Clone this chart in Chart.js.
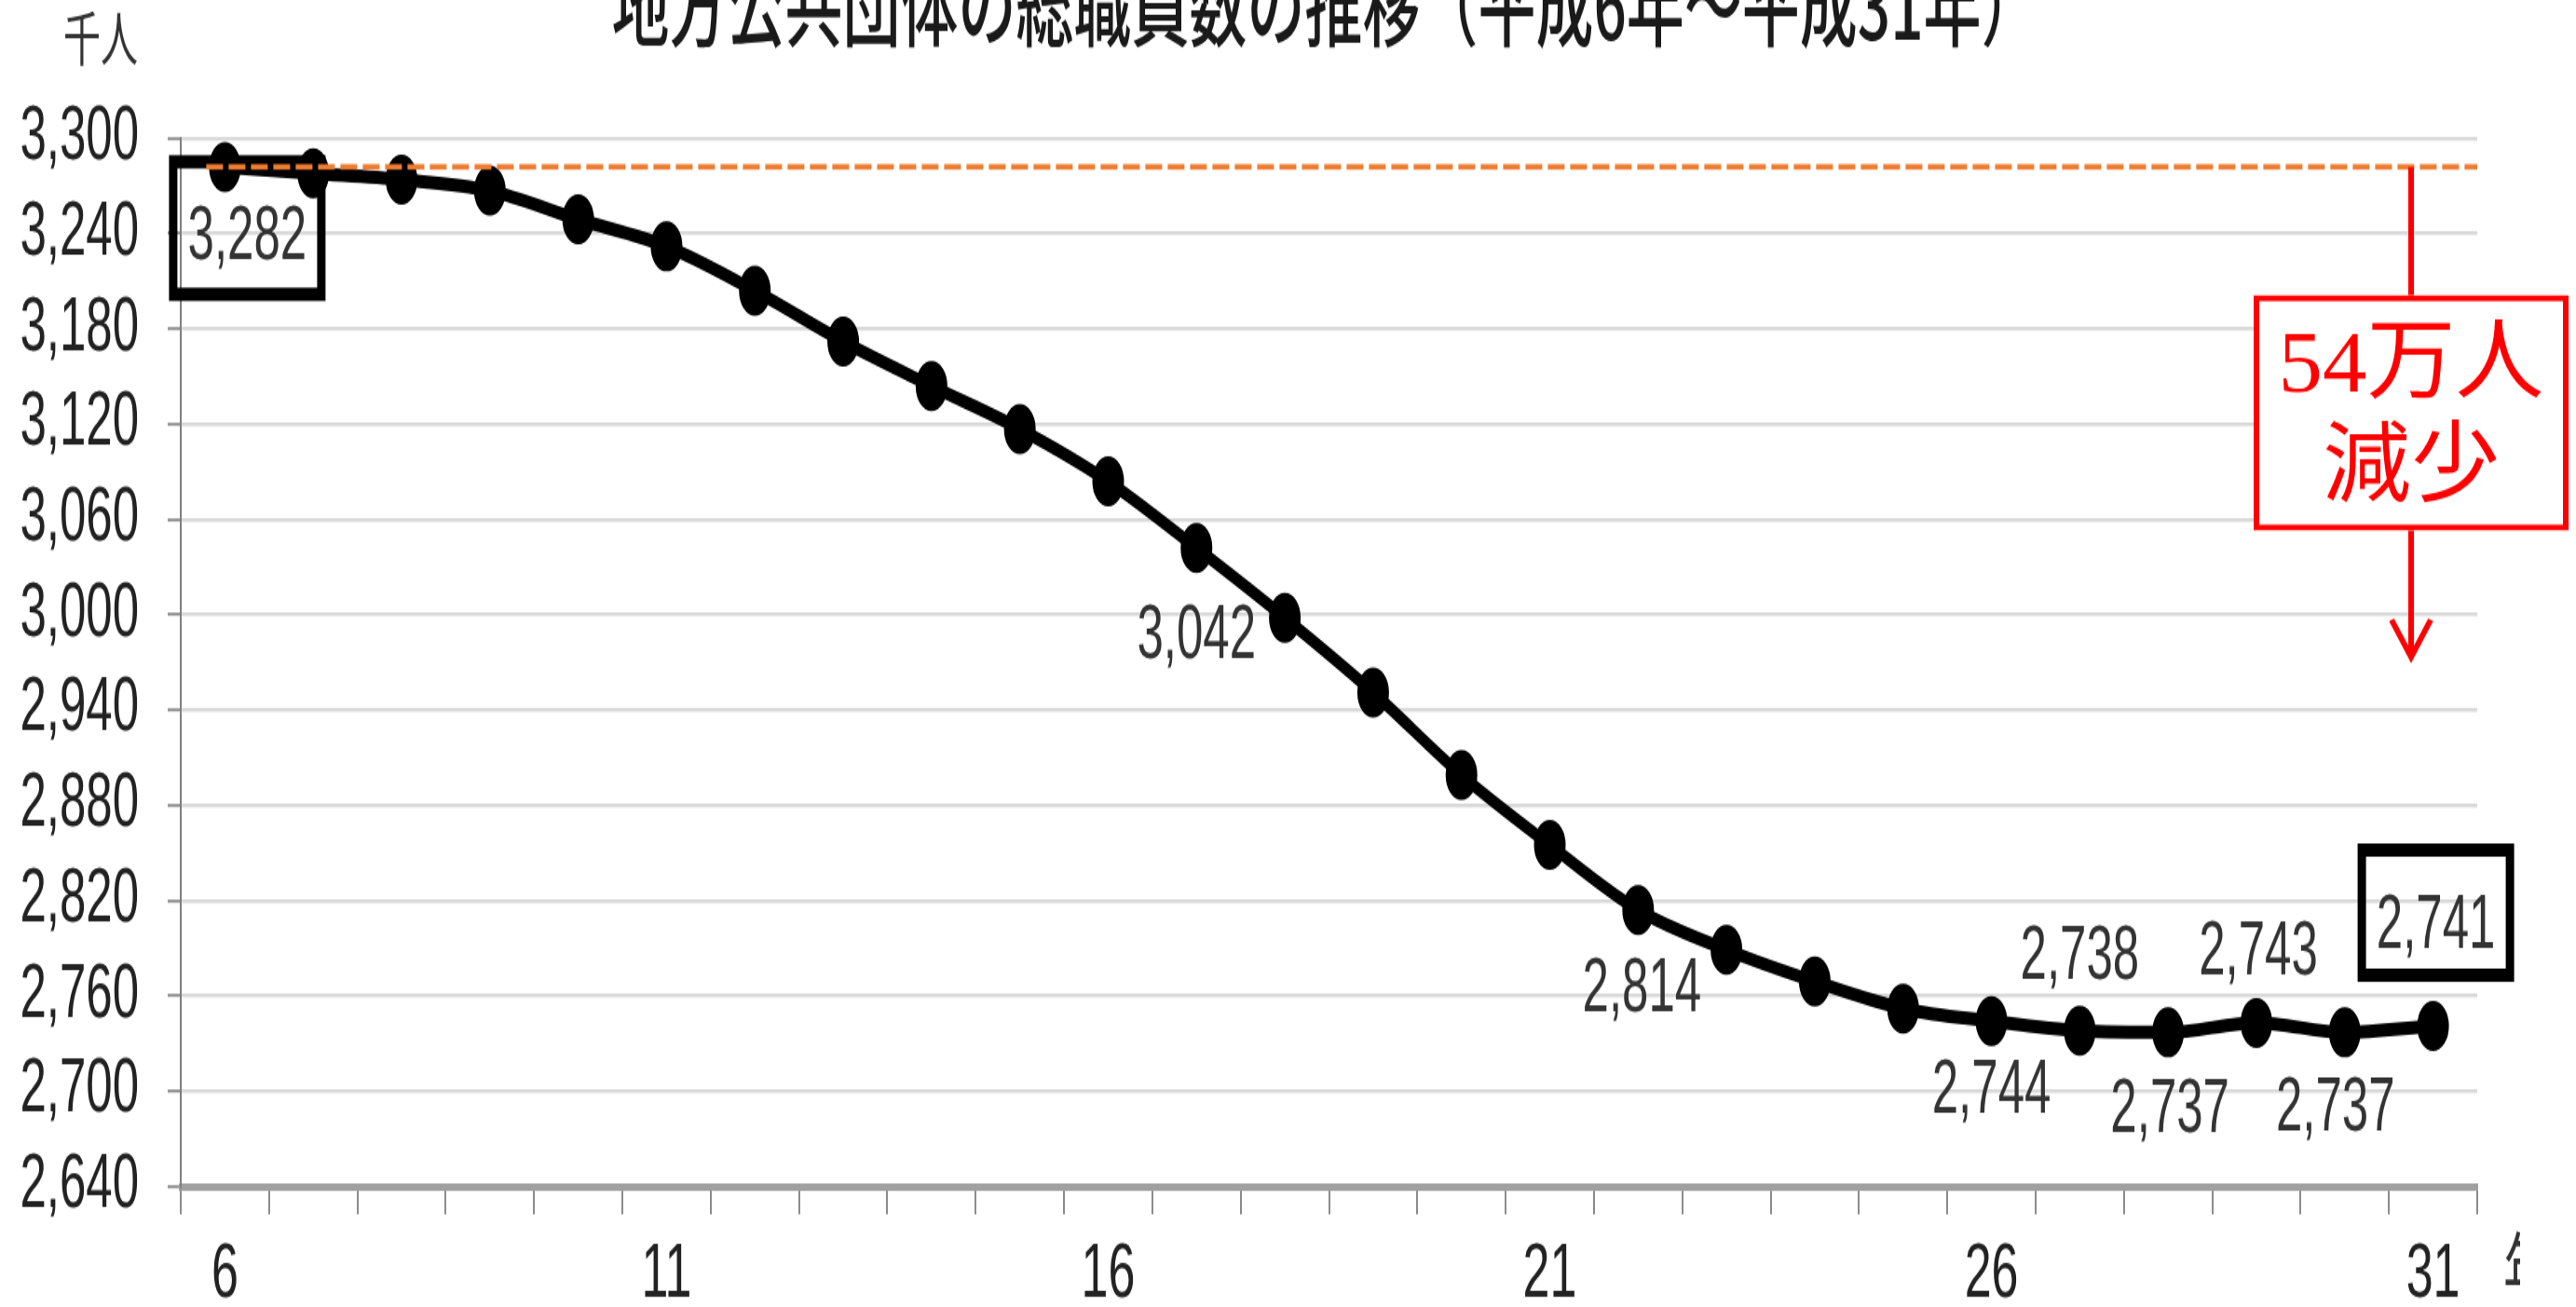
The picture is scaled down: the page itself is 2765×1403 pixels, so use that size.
<!DOCTYPE html>
<html lang="ja">
<head>
<meta charset="utf-8">
<title>地方公共団体の総職員数の推移</title>
<script src="https://cdn.jsdelivr.net/npm/chart.js@4.4.1/dist/chart.umd.min.js"></script>
<style>
    html, body { margin: 0; padding: 0; background: #fff; overflow: hidden; }
    #wrap { width: 2765px; height: 1403px; overflow: hidden; }
    /* the source picture is stretched vertically, so is this canvas */
    #staffChart { display: block; transform: scaleY(1.58); transform-origin: 0 0; }
</style>
</head>
<body>
<div id="wrap"><canvas id="staffChart" width="2765" height="888"></canvas></div>
<script>

// 平成6年〜平成31年, 地方公共団体の総職員数 (千人)
const years = [6, 7, 8, 9, 10, 11, 12, 13, 14, 15, 16, 17, 18, 19, 20, 21, 22, 23, 24, 25, 26, 27, 28, 29, 30, 31];
const staff = [3282, 3278, 3274, 3267, 3249, 3232, 3204, 3172, 3144, 3117, 3084, 3042, 2998, 2951, 2899, 2855, 2814, 2789, 2769, 2752, 2744, 2738, 2737, 2743, 2737, 2741];

const shownYears = [6, 11, 16, 21, 26, 31];
const yMin = 2640;
const yMax = 3300;
const yStep = 60;

const titleText = "地方公共団体の総職員数の推移（平成6年～平成31年）";
const unitText = "千人";
const yearText = "年";

// which points get a value label, and where it sits
const valueLabels = [
    { i: 0, dx: 24, dy: 49, box: true, boxDown: 5 },
    { i: 11, dx: 0, dy: 61 },
    { i: 16, dx: 4, dy: 55 },
    { i: 20, dx: 0, dy: 48 },
    { i: 21, dx: 0, dy: -49 },
    { i: 22, dx: 2, dy: 54 },
    { i: 23, dx: 2, dy: -47 },
    { i: 24, dx: -10, dy: 53 },
    { i: 25, dx: 3, dy: -67, box: true, boxDown: 0 }
];

const S = 1.58;
const numFont = '"Liberation Sans", Arial, sans-serif';
const cjkFont = '"Noto Sans CJK JP", "Noto Sans CJK SC", sans-serif';

const fmt = v => v.toLocaleString("en-US");

const overlay = {

    id: "overlay",

    beforeDraw(chart) {
        const ctx = chart.ctx;
        ctx.save();
        ctx.fillStyle = "#fff";
        ctx.fillRect(0, 0, chart.width, chart.height);
        ctx.restore();
    },

    afterDatasetsDraw(chart) {

        const ctx = chart.ctx;
        const meta = chart.getDatasetMeta(0);
        const yScale = chart.scales.y;
        const area = chart.chartArea;

        ctx.save();

        // value labels
        ctx.font = "51px " + numFont;
        ctx.textAlign = "center";
        ctx.textBaseline = "middle";
        ctx.fillStyle = "#333";

        valueLabels.forEach(l => {
            const p = meta.data[l.i];
            const tx = p.x + l.dx;
            const ty = p.y + l.dy;
            ctx.fillText(fmt(staff[l.i]), tx, ty);
            if (l.box) {
                const top = ty - 57;
                const bottom = ty + 37 + l.boxDown;
                ctx.lineWidth = 9;
                ctx.strokeStyle = "#000";
                ctx.strokeRect(tx - 84 + 4.5, top + 4.5, 168 - 9, bottom - top - 9);
            }
        });

        // orange reference line at the first year's level
        const refY = yScale.getPixelForValue(staff[0]);
        ctx.setLineDash([18, 6]);
        ctx.lineWidth = 3.8;
        ctx.strokeStyle = "#ED7D31";
        ctx.beginPath();
        ctx.moveTo(meta.data[0].x - 20, refY);
        ctx.lineTo(area.right, refY);
        ctx.stroke();
        ctx.setLineDash([]);

        // red "減少" callout, drawn unstretched
        ctx.save();
        ctx.scale(1, 1 / S);

        const ax = area.right - 71;
        const ref = refY * S;
        const boxTop = ref + 138;
        const boxBottom = ref + 390;
        const tip = ref + 526;

        ctx.strokeStyle = "#FF0000";
        ctx.lineWidth = 6;

        ctx.beginPath();
        ctx.moveTo(ax, ref);
        ctx.lineTo(ax, boxTop);
        ctx.moveTo(ax, boxBottom);
        ctx.lineTo(ax, tip);
        ctx.moveTo(ax - 21, tip - 40);
        ctx.lineTo(ax, tip);
        ctx.lineTo(ax + 21, tip - 40);
        ctx.stroke();

        ctx.fillStyle = "#fff";
        ctx.fillRect(ax - 169, boxTop, 338, boxBottom - boxTop);
        ctx.strokeRect(ax - 166, boxTop + 3, 332, boxBottom - boxTop - 6);

        const drop = Math.round((staff[0] - staff[staff.length - 1]) / 10);
        ctx.fillStyle = "#FF0000";
        ctx.font = '95px "Liberation Serif", ' + cjkFont;
        ctx.textAlign = "center";
        ctx.textBaseline = "middle";
        ctx.fillText(drop + "万人", ax, ref + 216);
        ctx.fillText("減少", ax, ref + 326);

        ctx.restore();
        ctx.restore();
    },

    afterDraw(chart) {

        const ctx = chart.ctx;
        const area = chart.chartArea;

        ctx.save();
        ctx.fillStyle = "#1a1a1a";
        ctx.textAlign = "center";
        ctx.textBaseline = "alphabetic";
        ctx.font = "500 62px " + cjkFont;
        ctx.fillText(titleText, (area.left + area.right) / 2 - 4, 27);

        ctx.fillStyle = "#333";
        ctx.font = "40px " + cjkFont;
        ctx.fillText(unitText, 108, 41);

        // year unit, partly cut off at the right edge
        ctx.beginPath();
        ctx.rect(0, 0, 2705, chart.height);
        ctx.clip();
        ctx.textAlign = "left";
        ctx.font = "52px " + cjkFont;
        ctx.fillText(yearText, 2687, 881);
        ctx.restore();
    }
};

const ctx = document.getElementById("staffChart");

new Chart(ctx, {

    type: "line",

    data: {
        labels: years,
        datasets: [
            {
                label: "総職員数",
                data: staff,
                borderColor: "#000",
                borderWidth: 9,
                pointRadius: 16,
                pointBorderWidth: 2,
                pointBackgroundColor: "#000",
                pointBorderColor: "#000",
                cubicInterpolationMode: "monotone",
                clip: false
            }
        ]
    },

    options: {

        responsive: false,
        animation: false,
        devicePixelRatio: 1,

        layout: {
            padding: { top: 94, right: 106, left: 0, bottom: 0 }
        },

        plugins: {
            legend: { display: false },
            tooltip: { enabled: false }
        },

        scales: {

            x: {
                offset: true,
                grid: {
                    offset: true,
                    drawOnChartArea: false,
                    tickLength: 19,
                    color: "#8c8c8c",
                    tickColor: "#8c8c8c",
                    lineWidth: 2
                },
                border: { color: "#a0a0a0", width: 5 },
                ticks: {
                    autoSkip: false,
                    maxRotation: 0,
                    padding: 10,
                    color: "#222",
                    font: { family: numFont, size: 52 },
                    callback(value, index) {
                        const yr = years[index];
                        return shownYears.includes(yr) ? String(yr) : "";
                    }
                },
                afterFit(scale) {
                    scale.height = 82;
                }
            },

            y: {
                min: yMin,
                max: yMax,
                ticks: {
                    stepSize: yStep,
                    padding: 31,
                    color: "#222",
                    font: { family: numFont, size: 51 },
                    callback: v => fmt(v)
                },
                grid: {
                    color: "#d9d9d9",
                    lineWidth: 2.5,
                    tickLength: 14,
                    tickColor: "#8c8c8c",
                    tickWidth: 2
                },
                border: { color: "#7f7f7f", width: 2 },
                afterFit(scale) {
                    scale.width = 194;
                }
            }
        }
    },

    plugins: [overlay]

});

</script>
</body>
</html>
